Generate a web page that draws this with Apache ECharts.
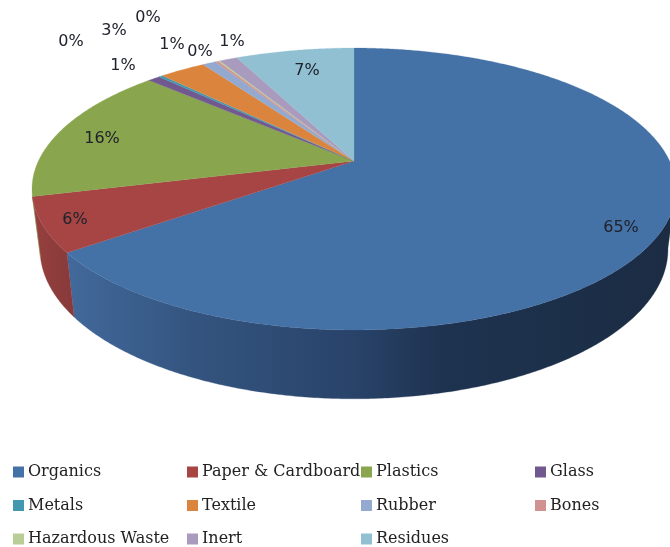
<!DOCTYPE html>
<html>
<head>
<meta charset="utf-8">
<style>
  html, body { margin: 0; padding: 0; background: #fff; }
  #chart { width: 670px; height: 547px; }
</style>
<script src="https://cdn.jsdelivr.net/npm/echarts@6/dist/echarts.min.js"></script>
</head>
<body>
<div id="chart"></div>
<script>
// Waste composition, percent of total
const categories = ['Organics', 'Paper & Cardboard', 'Plastics', 'Glass', 'Metals', 'Textile',
  'Rubber', 'Bones', 'Hazardous Waste', 'Inert', 'Residues'];
const shares = [64.8, 6.2, 15.8, 0.75, 0.25, 2.8, 0.8, 0.2, 0.1, 1.1, 7.2];
const colors = ['#4471a6', '#a64543', '#89a54e', '#71588f', '#4198af', '#db843d',
  '#93a9cf', '#d19392', '#b9cd96', '#a99bbd', '#92c0d3'];

// Columns of the legend, as indexes into categories
const legendColumns = [[0, 4, 8], [1, 5, 9], [2, 6, 10], [3, 7]];
const legendColumnLeft = [13, 187, 361, 535];

// Where each percent label sits on the page
const labelAnchors = [[621, 228], [75, 220], [102, 139], [123, 66], [71, 42], [114, 31],
  [172, 45], [148, 18], [200, 52], [232, 42], [307, 71]];

// Perspective disc: apex of the pie, vertical reach and foreshortening
const pie = { cx: 354, cy: 161, sx: 315.6, sy: 135.4, persp: -0.1986 };
// Lower rim of the wall relative to the upper rim
const wall = { shrinkX: 0.975, stretchY: 1.06, drop: 58.7 };
const wallVisibleFrom = 101;
const wallVisibleTo = 256;

const total = shares.reduce((a, b) => a + b, 0);
const cumulative = [];
shares.reduce((sum, v, i) => { cumulative[i] = sum; return sum + v; }, 0);
const toDeg = v => v / total * 360;

function topPoint(deg) {
  const t = deg * Math.PI / 180;
  const x = Math.sin(t), y = -Math.cos(t), den = 1 + pie.persp * y;
  return [pie.cx + pie.sx * x / den, pie.cy + pie.sy * y / den];
}
function lowerPoint(deg) {
  const p = topPoint(deg);
  return [pie.cx + (p[0] - pie.cx) * wall.shrinkX, pie.cy + wall.drop + (p[1] - pie.cy) * wall.stretchY];
}
function arc(fn, a0, a1) {
  const n = Math.max(2, Math.ceil((a1 - a0) * 2));
  const pts = [];
  for (let i = 0; i <= n; i++) pts.push(fn(a0 + (a1 - a0) * i / n));
  return pts;
}

const wallFills = {
  0: { type: 'linear', x: 69, y: 0, x2: 670, y2: 0, global: true, colorStops: [
    { offset: 0, color: '#42699b' },
    { offset: 0.2, color: '#345580' },
    { offset: 0.47, color: '#29436a' },
    { offset: 0.62, color: '#1e3350' },
    { offset: 1, color: '#1b2c43' }] },
  1: { type: 'linear', x: 34, y: 0, x2: 76, y2: 0, global: true, colorStops: [
    { offset: 0, color: '#95403e' },
    { offset: 1, color: '#87393a' }] }
};

function renderSlice(i) {
  return function () {
    const start = toDeg(cumulative[i]);
    const end = start + toDeg(shares[i]);
    const children = [];
    const from = Math.max(start, wallVisibleFrom), to = Math.min(end, wallVisibleTo);
    if (to > from) {
      const fill = wallFills[i] || colors[i];
      children.push({
        type: 'polygon', z2: 1,
        shape: { points: arc(topPoint, from, to).concat(arc(lowerPoint, from, to).reverse()) },
        style: { fill: fill, stroke: fill, lineWidth: 0.3 }
      });
    }
    children.push({
      type: 'polygon', z2: 2,
      shape: { points: [[pie.cx, pie.cy]].concat(arc(topPoint, start, end)) },
      style: { fill: colors[i], stroke: colors[i], lineWidth: 0.25 }
    });
    children.push({
      type: 'text', z2: 30,
      style: {
        x: labelAnchors[i][0], y: labelAnchors[i][1],
        text: Math.round(shares[i]) + '%',
        align: 'center', verticalAlign: 'middle',
        font: '16px "DejaVu Sans"', fill: '#20222c'
      }
    });
    return { type: 'group', children: children };
  };
}

const chart = echarts.init(document.getElementById('chart'), null, { renderer: 'canvas' });
chart.setOption({
  animation: false,
  backgroundColor: '#fff',
  legend: legendColumns.map((col, c) => ({
    orient: 'vertical',
    left: legendColumnLeft[c],
    top: 464,
    itemWidth: 11,
    itemHeight: 11,
    itemGap: 17.5,
    padding: 0,
    icon: 'rect',
    selectedMode: false,
    textStyle: { fontFamily: 'DejaVu Serif', fontSize: 16, color: '#222', padding: [0, 0, 0, -1] },
    data: col.map(k => categories[k])
  })),
  series: categories.map((name, i) => ({
    type: 'custom',
    name: name,
    coordinateSystem: 'none',
    itemStyle: { color: colors[i] },
    renderItem: renderSlice(i),
    data: [shares[i]],
    silent: true,
    clip: false
  }))
});
</script>
</body>
</html>
